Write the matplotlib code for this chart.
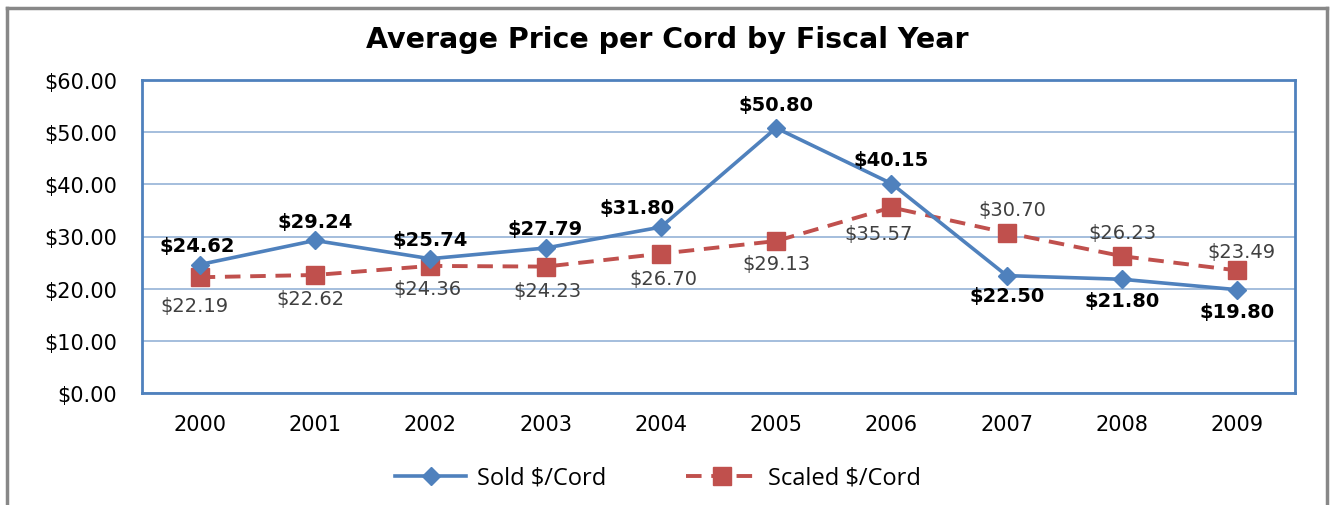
import matplotlib
matplotlib.use("Agg")
import matplotlib.pyplot as plt
from matplotlib.lines import Line2D

years = ["2000", "2001", "2002", "2003", "2004", "2005", "2006", "2007", "2008", "2009"]
sold = [24.62, 29.24, 25.74, 27.79, 31.80, 50.80, 40.15, 22.50, 21.80, 19.80]
scaled = [22.19, 22.62, 24.36, 24.23, 26.70, 29.13, 35.57, 30.70, 26.23, 23.49]
yticks = [0, 10, 20, 30, 40, 50, 60]

BLUE = "#4F81BD"
RED = "#C0504D"
GRID = "#95B3D7"
FONT = "DejaVu Sans"

fig = plt.figure(figsize=(13.32, 5.06), dpi=100)
ax = fig.add_axes([142/1332, 1 - 394/506, (1295-142)/1332, (394-81)/506])

x = list(range(len(years)))
ax.plot(x, sold, color=BLUE, lw=2.6, marker="D", ms=9, mfc=BLUE, mec=BLUE, zorder=4,
        label="Sold $/Cord")
ax.plot(x, scaled, color=RED, lw=2.8, ls=(0, (4, 2.5)), marker="s", ms=12.5, mfc=RED, mec=RED,
        zorder=3, label="Scaled $/Cord")

ax.set_xlim(-0.5, len(years) - 0.5)
ax.set_ylim(0, 60)
ax.set_yticks(yticks)
ax.set_yticklabels([f"${v:.2f}" for v in yticks], fontsize=15, family=FONT)
ax.set_xticks(x)
ax.set_xticklabels(years, fontsize=15, family=FONT)
ax.tick_params(axis="y", length=0, pad=18)
ax.tick_params(axis="x", length=0, pad=15)
ax.grid(axis="y", color=GRID, lw=1.2)
ax.set_axisbelow(True)
for s in ax.spines.values():
    s.set_color(BLUE)
    s.set_linewidth(2)

# sold labels: offsets in points (dx, dy)
sold_off = [(-2, 14), (0, 14), (0, 14), (0, 14), (-17, 14), (0, 17), (0, 17),
            (0, -14), (0, -15), (0, -16)]
for i, (v, (dx, dy)) in enumerate(zip(sold, sold_off)):
    ax.annotate(f"${v:.2f}", (i, v), xytext=(dx, dy), textcoords="offset points",
                ha="center", va="center", fontsize=14, fontweight="bold",
                family=FONT, color="black", zorder=6)

scaled_off = [(-4, -20), (-3, -17), (-2, -16), (1, -17), (2, -18), (0, -16), (-9, -19),
              (4, 17), (0, 17), (3, 14)]
for i, (v, (dx, dy)) in enumerate(zip(scaled, scaled_off)):
    ax.annotate(f"${v:.2f}", (i, v), xytext=(dx, dy), textcoords="offset points",
                ha="center", va="center", fontsize=14, family=FONT,
                color="#404040", zorder=6)

fig.text(667/1332, 1 - 40/506, "Average Price per Cord by Fiscal Year",
         ha="center", va="center", fontsize=20.5, fontweight="bold", family=FONT)

leg = fig.legend(loc="center", bbox_to_anchor=(658/1332, 1 - 479/506), ncol=2,
                 frameon=False, handlelength=3.0, handletextpad=0.45, columnspacing=3.4,
                 prop={"family": "Open Sans", "size": 17})

# outer chart border (left, top, right)
fig.add_artist(Line2D([7/1332, 7/1332], [0, 1 - 9/506], color="#888888", lw=2.5,
                      transform=fig.transFigure))
fig.add_artist(Line2D([7/1332, 1327/1332], [1 - 9/506, 1 - 9/506], color="#888888", lw=2.5,
                      transform=fig.transFigure))
fig.add_artist(Line2D([1327/1332, 1327/1332], [0, 1 - 9/506], color="#888888", lw=2.5,
                      transform=fig.transFigure))

fig.savefig("out.png", dpi=100)
